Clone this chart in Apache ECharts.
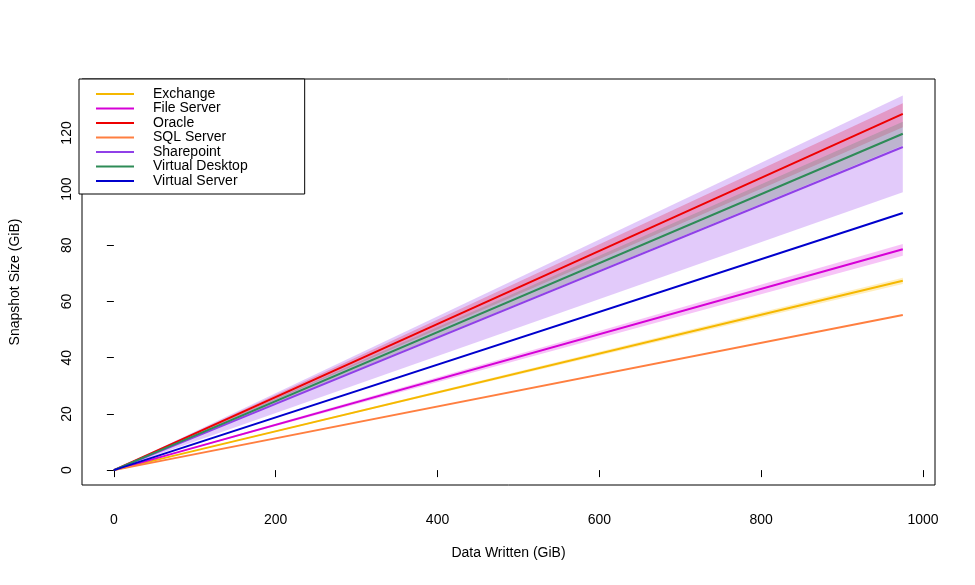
<!DOCTYPE html><html><head><meta charset="utf-8"><script src="https://cdn.jsdelivr.net/npm/echarts@6/dist/echarts.min.js"></script></head><body style="margin:0"><div id="c" style="width:975px;height:585px"></div><script>
const xEnd = 975;
const names = ['Exchange','File Server','Oracle','SQL Server','Sharepoint','Virtual Desktop','Virtual Server'];
const colors = ['#f5b800','#d600d6','#ee0000','#ff7f40','#9040e8','#2e8b57','#0000cd'];
const endValues = [67.4,78.6,126.8,55.2,115.0,119.7,91.5];
const bandNames = ['Sharepoint','Oracle','Virtual Desktop','File Server','Exchange'];
const bandLow = [98.9,122.0,115.5,76.3,66.2];
const bandHigh = [133.3,130.6,124.0,80.5,68.5];
const bandColors = ['rgba(160,80,240,0.3)','rgba(230,40,80,0.3)','rgba(120,140,130,0.35)','rgba(230,60,230,0.3)','rgba(255,200,40,0.3)'];
const xTicks=[0,200,400,600,800,1000], yTicks=[0,20,40,60,80,100,120];
const series=[];
series.push({type:'custom',silent:true,z:1,
  data:bandNames.map((n,i)=>[xEnd,bandLow[i],bandHigh[i],i]),
  renderItem:(params,api)=>{
    const x=api.value(0),lo=api.value(1),hi=api.value(2),i=api.value(3);
    return {type:'polygon',shape:{points:[api.coord([0,0]),api.coord([x,lo]),api.coord([x,hi])]},style:{fill:bandColors[i]}};
  }});
names.forEach((n,i)=>series.push({name:n,type:'line',z:3,data:[[0,0],[xEnd,endValues[i]]],symbol:'none',color:colors[i],lineStyle:{width:2,color:colors[i]}}));
const font='Liberation Sans, Arial, sans-serif';
echarts.init(document.getElementById('c')).setOption({
  animation:false,
  grid:{left:79,right:40,top:79,bottom:100,show:true,borderColor:'#000',borderWidth:1},
  legend:{data:names,orient:'vertical',left:79,top:79,padding:[8,57,6,17],itemGap:0.5,itemWidth:38,itemHeight:2,icon:'rect',backgroundColor:'#fff',borderColor:'#000',borderWidth:1,textStyle:{fontFamily:font,fontSize:14,lineHeight:14,color:'#000',padding:[0,0,0,14]}},
  xAxis:{type:'value',min:-39.4,max:1014.8,name:'Data Written (GiB)',nameLocation:'middle',nameGap:61,nameTextStyle:{fontFamily:font,fontSize:14,color:'#000'},axisLine:{show:false},splitLine:{show:false},
    axisTick:{show:true,length:7,customValues:xTicks,lineStyle:{color:'#000'}},axisLabel:{customValues:xTicks,margin:28,formatter:v=>String(v),fontFamily:font,fontSize:14,color:'#000'}},
  yAxis:{type:'value',min:-5.3,max:139.2,name:'Snapshot Size (GiB)',nameLocation:'middle',nameGap:60,nameTextStyle:{fontFamily:font,fontSize:14,color:'#000'},axisLine:{show:false},splitLine:{show:false},
    axisTick:{show:true,length:7,customValues:yTicks,lineStyle:{color:'#000'}},axisLabel:{customValues:yTicks,rotate:90,margin:8,fontFamily:font,fontSize:14,color:'#000'}},
  series
});
</script></body></html>
